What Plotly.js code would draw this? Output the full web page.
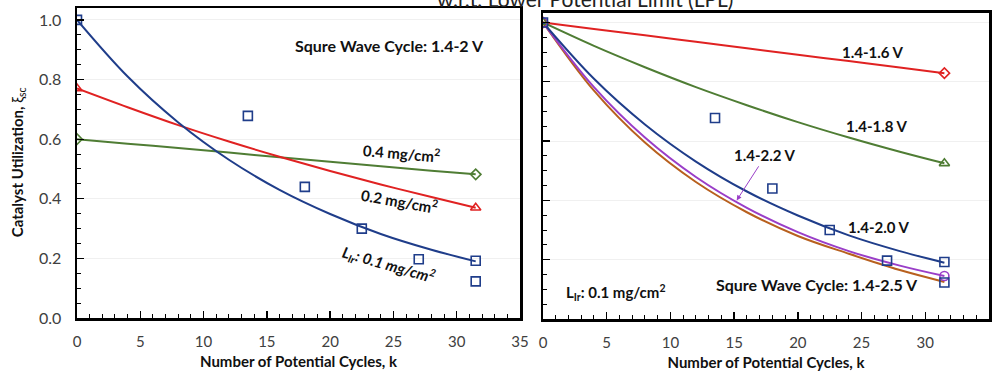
<!DOCTYPE html>
<html>
<head>
<meta charset="utf-8">
<script src="https://cdn.plot.ly/plotly-3.0.1.min.js"></script>
<style>
  html, body { margin: 0; padding: 0; background: #fff; }
  #chart { width: 995px; height: 373px; }
</style>
</head>
<body>
<div id="chart"></div>
<script>
// Measured catalyst utilization vs. number of potential cycles (L_Ir = 0.1 mg/cm2)
const cyclesMeas = [0, 13.5, 18, 22.5, 27, 31.5, 31.5];
const xiMeas = [1.0, 0.678, 0.44, 0.30, 0.197, 0.192, 0.123];

// Fitted decay curves, sampled along the cycle axis
const cyclesFit = [0, 4, 8, 12, 16, 20, 24, 28, 31.5];
// Left panel: loading series at 1.4-2 V
const fit01 = [1.0, 0.81, 0.656, 0.531, 0.43, 0.349, 0.282, 0.229, 0.19];
const fit02 = [0.77, 0.707, 0.647, 0.592, 0.541, 0.493, 0.448, 0.406, 0.37];
const fit04 = [0.60, 0.585, 0.570, 0.555, 0.539, 0.524, 0.509, 0.494, 0.482];
// Right panel: upper potential series at 0.1 mg/cm2
const fit16 = [1.0, 0.978, 0.957, 0.935, 0.913, 0.891, 0.870, 0.848, 0.829];
const fit18 = [1.0, 0.921, 0.849, 0.782, 0.721, 0.664, 0.612, 0.564, 0.525];
const fit20 = [1.0, 0.81, 0.656, 0.531, 0.43, 0.349, 0.282, 0.229, 0.19];
const fit22 = [1.0, 0.782, 0.612, 0.479, 0.375, 0.293, 0.229, 0.180, 0.145];
const fit25 = [1.0, 0.77, 0.595, 0.462, 0.36, 0.28, 0.22, 0.165, 0.125];

// End-point markers
const cyclesEnds = [0, 31.5];
const ends02 = [0.77, 0.37];
const ends04 = [0.60, 0.482];
const ends16 = [1.0, 0.829];
const ends18 = [1.0, 0.525];
const ends22 = [1.0, 0.145];

// Tick labels
const xTicks = [0, 5, 10, 15, 20, 25, 30, 35];
const yTicks = [0, 0.2, 0.4, 0.6, 0.8, 1.0];
const yTickText = ['0.0', '0.2', '0.4', '0.6', '0.8', '1.0'];

const C = {
  blue: '#1f3d8a',
  red: '#e02222',
  green: '#4f7d34',
  purple: '#9a3ec8',
  brown: '#b8601e'
};

function fitLine(x, y, color, xa, ya) {
  return { x: x, y: y, mode: 'lines', type: 'scatter', xaxis: xa, yaxis: ya,
    line: { color: color, width: 2, shape: 'spline', smoothing: 1 }, hoverinfo: 'skip' };
}
function pts(x, y, color, symbol, xa, ya, size) {
  return { x: x, y: y, mode: 'markers', type: 'scatter', xaxis: xa, yaxis: ya,
    marker: { symbol: symbol, size: size || 9, color: color,
      line: { color: color, width: 1.6 } }, hoverinfo: 'skip' };
}

const traces = [
  // left panel
  fitLine(cyclesFit, fit04, C.green, 'x', 'y'),
  fitLine(cyclesFit, fit02, C.red, 'x', 'y'),
  fitLine(cyclesFit, fit01, C.blue, 'x', 'y'),
  pts(cyclesEnds, ends04, C.green, 'diamond-open', 'x', 'y', 8),
  pts(cyclesEnds, ends02, C.red, 'triangle-up-open', 'x', 'y', 9),
  pts(cyclesMeas, xiMeas, C.blue, 'square-open', 'x', 'y', 9),
  // right panel
  fitLine(cyclesFit, fit16, C.red, 'x2', 'y2'),
  fitLine(cyclesFit, fit18, C.green, 'x2', 'y2'),
  fitLine(cyclesFit, fit25, C.brown, 'x2', 'y2'),
  fitLine(cyclesFit, fit22, C.purple, 'x2', 'y2'),
  fitLine(cyclesFit, fit20, C.blue, 'x2', 'y2'),
  pts(cyclesEnds, ends16, C.red, 'diamond-open', 'x2', 'y2', 8),
  pts(cyclesEnds, ends18, C.green, 'triangle-up-open', 'x2', 'y2', 9),
  pts(cyclesEnds, ends22, C.purple, 'circle-open', 'x2', 'y2', 9),
  pts(cyclesMeas, xiMeas, C.blue, 'square-open', 'x2', 'y2', 9)
];

const tickFont = { family: 'Lato, "Open Sans", sans-serif', size: 15, color: '#404040' };
const titleFont = { family: 'Lato, "Open Sans", sans-serif', size: 15, color: '#111' };

function xAxis(domain, anchor) {
  return {
    domain: domain, anchor: anchor, range: [0, 35], tickvals: xTicks,
    ticks: 'inside', ticklen: 7, tickwidth: 1.3, tickcolor: '#000',
    minor: { dtick: 1, ticks: 'inside', ticklen: 4, tickwidth: 1, tickcolor: '#000', showgrid: false },
    showline: true, linewidth: 2.5, linecolor: '#000', mirror: true,
    showgrid: false, zeroline: false, tickfont: tickFont, ticklabelstandoff: 8,
    title: { text: '<b>Number of Potential Cycles, k</b>', font: titleFont, standoff: 8 },
    fixedrange: true
  };
}
function yAxis(domain, anchor, top, labels) {
  return {
    domain: domain, anchor: anchor, range: [0, top], tickvals: yTicks,
    ticktext: labels ? yTickText : yTicks.map(() => ''),
    ticks: 'inside', ticklen: 7, tickwidth: 1.3, tickcolor: '#000',
    minor: { dtick: 0.05, ticks: 'inside', ticklen: 4, tickwidth: 1, tickcolor: '#000', showgrid: false },
    showline: true, linewidth: 2.5, linecolor: '#000', mirror: true,
    showgrid: true, gridcolor: '#f0f0f0', gridwidth: 1, zeroline: false,
    tickfont: { family: tickFont.family, size: 16, color: tickFont.color },
    ticklabelstandoff: 10, fixedrange: true
  };
}

const lab = { family: 'Lato, "Open Sans", sans-serif', size: 15, color: '#111' };
const labBig = { family: 'Lato, "Open Sans", sans-serif', size: 16, color: '#111' };
function note(xref, yref, x, y, text, angle, font) {
  return { xref: xref, yref: yref, x: x, y: y, text: text, showarrow: false,
    font: font || lab, textangle: angle || 0, xanchor: 'center', yanchor: 'middle' };
}

const annotations = [
  // figure heading, running off the top edge
  { xref: 'paper', yref: 'paper', x: 0.588, y: 0.966, yanchor: 'bottom', xanchor: 'center',
    text: 'w.r.t. Lower Potential Limit (LPL)', showarrow: false,
    font: { family: 'Lato, "Open Sans", sans-serif', size: 21, color: '#222' } },
  // y-axis title
  { xref: 'paper', yref: 'paper', x: 18 / 995, y: 0.565, xanchor: 'center', yanchor: 'middle',
    text: '<b>Catalyst Utilization, </b>ξ<sub>sc</sub>', textangle: -90, showarrow: false,
    font: titleFont },
  // left panel labels
  note('x', 'y', 24.7, 0.915, '<b>Squre Wave Cycle: 1.4-2 V</b>', 0, labBig),
  note('x', 'y', 25.6, 0.555, '<b>0.4 mg/cm<sup>2</sup></b>', 5),
  note('x', 'y', 25.5, 0.395, '<b>0.2 mg/cm<sup>2</sup></b>', 10),
  note('x', 'y', 24.6, 0.18, '<b><i>L<sub>Ir</sub>: 0.1 mg/cm<sup>2</sup></i></b>', 16),
  // right panel labels
  note('x2', 'y2', 25.9, 0.902, '<b>1.4-1.6 V</b>', 0),
  note('x2', 'y2', 26.2, 0.651, '<b>1.4-1.8 V</b>', 0),
  note('x2', 'y2', 17.4, 0.553, '<b>1.4-2.2 V</b>', 0),
  note('x2', 'y2', 26.4, 0.311, '<b>1.4-2.0 V</b>', 0),
  note('x2', 'y2', 21.5, 0.115, '<b>Squre Wave Cycle: 1.4-2.5 V</b>', 0, labBig),
  note('x2', 'y2', 5.7, 0.09, '<b>L<sub>Ir</sub>: 0.1 mg/cm<sup>2</sup></b>', 0),
  // pointer to the 1.4-2.2 V curve
  { xref: 'x2', yref: 'y2', x: 15.2, y: 0.40, axref: 'x2', ayref: 'y2', ax: 17.0, ay: 0.52,
    text: '', showarrow: true, arrowhead: 2, arrowsize: 1, arrowwidth: 1, arrowcolor: C.purple }
];

const layout = {
  width: 995, height: 373,
  margin: { l: 0, r: 0, t: 0, b: 0 },
  paper_bgcolor: '#fff', plot_bgcolor: '#fff',
  showlegend: false,
  font: { family: 'Lato, "Open Sans", sans-serif' },
  xaxis: xAxis([77 / 995, 520 / 995], 'y'),
  yaxis: yAxis([55 / 373, 365 / 373], 'x', 1.04, true),
  xaxis2: xAxis([543 / 995, 989 / 995], 'y2'),
  yaxis2: yAxis([54 / 373, 360.3 / 373], 'x2', 1.033, false),
  annotations: annotations
};

Plotly.newPlot('chart', traces, layout, { staticPlot: true, displayModeBar: false });
</script>
</body>
</html>
